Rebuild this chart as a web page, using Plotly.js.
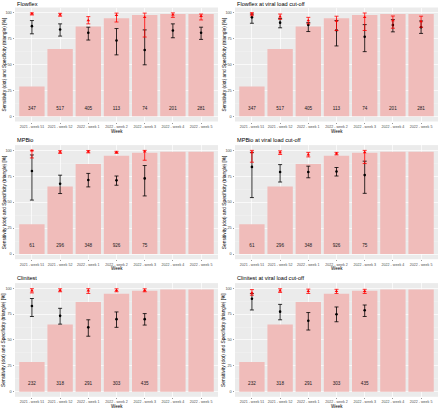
<!DOCTYPE html>
<html>
<head>
<meta charset="utf-8">
<script src="https://cdn.plot.ly/plotly-3.0.1.min.js"></script>
<style>html,body{margin:0;padding:0;background:#fff;}#chart{width:440px;height:409px;}</style>
</head>
<body>
<div id="chart"></div>
<script>
// ---------------- data ----------------
const weeks = ['2021 - week 51','2021 - week 52','2022 - week 1','2022 - week 2','2022 - week 3','2022 - week 4','2022 - week 5'];
const barShare = [28.7, 65, 86.7, 94.7, 97.7, 98.7, 98.7];

const flowflexN       = [347, 517, 405, 113, 74, 201, 281];
const flowflexSens    = [87.0, 83.8, 80.6, 73.2, 64.0, 82.8, 80.6];
const flowflexSensLo  = [79.6, 77.4, 73.6, 59.3, 49.7, 75.8, 74.2];
const flowflexSensHi  = [92.4, 89.2, 86.0, 84.7, 83.4, 89.2, 86.0];
const flowflexSpec    = [99.0, 98.0, 92.6, 97.5, 95.6, 98.0, 96.6];
const flowflexSpecLo  = [97.8, 96.6, 89.2, 91.0, 76.5, 95.5, 93.0];
const flowflexSpecHi  = [99.8, 99.4, 96.2, 99.6, 99.6, 99.8, 98.7];

const flowflexVlSens   = [95.5, 90.4, 88.2, 83.0, 76.8, 88.0, 86.0];
const flowflexVlSensLo = [89.8, 85.4, 81.8, 67.9, 62.4, 81.5, 80.0];
const flowflexVlSensHi = [98.7, 94.3, 90.4, 92.4, 88.5, 93.3, 92.0];
const flowflexVlSpec   = [98.7, 96.2, 92.4, 92.0, 95.6, 92.4, 91.5];
const flowflexVlSpecLo = [97.0, 93.6, 89.2, 82.8, 82.8, 85.0, 86.0];
const flowflexVlSpecHi = [100.0, 98.7, 95.5, 96.6, 99.7, 96.8, 96.6];

const mpbioN       = [61, 296, 348, 926, 75, null, null];
const mpbioSens    = [80.0, 67.8, 71.3, 71.0, 72.9, null, null];
const mpbioSensLo  = [52.0, 58.3, 64.7, 66.3, 56.0, null, null];
const mpbioSensHi  = [95.5, 76.0, 77.7, 75.2, 85.3, null, null];
const mpbioSpec    = [99.6, 98.4, 98.7, 98.1, 98.7, null, null];
const mpbioSpecLo  = [92.6, 97.0, 97.5, 97.0, 90.4, null, null];
const mpbioSpecHi  = [100.0, 99.6, 99.8, 99.0, 99.9, null, null];

const mpbioVlSens   = [84.0, 79.0, 79.0, 79.6, 76.1, null, null];
const mpbioVlSensLo = [54.4, 69.4, 73.5, 75.2, 58.5, null, null];
const mpbioVlSensHi = [98.0, 86.2, 84.7, 83.4, 89.5, null, null];
const mpbioVlSpec   = [98.0, 98.0, 95.8, 96.8, 98.0, null, null];
const mpbioVlSpecLo = [88.5, 96.0, 93.6, 95.5, 87.2, null, null];
const mpbioVlSpecHi = [99.9, 99.5, 98.0, 98.0, 99.9, null, null];

const clinitestN       = [232, 318, 291, 303, 435, null, null];
const clinitestSens    = [82.9, 73.3, 62.2, 70.1, 70.1, null, null];
const clinitestSensLo  = [72.7, 65.3, 53.6, 62.2, 64.4, null, null];
const clinitestSensHi  = [90.1, 80.6, 69.5, 77.1, 75.5, null, null];
const clinitestSpec    = [97.7, 98.0, 97.7, 98.0, 98.0, null, null];
const clinitestSpecLo  = [95.5, 96.6, 95.0, 96.6, 96.6, null, null];
const clinitestSpecHi  = [99.6, 99.5, 99.6, 99.5, 99.5, null, null];

const clinitestVlSens   = [89.8, 77.4, 68.6, 74.9, 78.7, null, null];
const clinitestVlSensLo = [79.0, 69.5, 59.6, 67.6, 72.7, null, null];
const clinitestVlSensHi = [95.0, 84.4, 76.5, 81.9, 83.8, null, null];
const clinitestVlSpec   = [95.5, 97.7, 97.1, 97.1, 97.1, null, null];
const clinitestVlSpecLo = [93.3, 96.0, 95.0, 95.0, 95.0, null, null];
const clinitestVlSpecHi = [98.7, 99.5, 99.2, 99.0, 99.0, null, null];

const panelTitles = ['Flowflex','Flowflex at viral load cut-off','MPBio','MPBio at viral load cut-off','Clinitest','Clinitest at viral load cut-off'];
const xTitle = 'Week';
const yTitle = 'Sensitivity (dot) and Specificity (triangle) [%]';

// ---------------- build ----------------
const panels = [
  {n: flowflexN,  s: flowflexSens,  sl: flowflexSensLo,  sh: flowflexSensHi,  p: flowflexSpec,  pl: flowflexSpecLo,  ph: flowflexSpecHi},
  {n: flowflexN,  s: flowflexVlSens, sl: flowflexVlSensLo, sh: flowflexVlSensHi, p: flowflexVlSpec, pl: flowflexVlSpecLo, ph: flowflexVlSpecHi},
  {n: mpbioN,     s: mpbioSens,     sl: mpbioSensLo,     sh: mpbioSensHi,     p: mpbioSpec,     pl: mpbioSpecLo,     ph: mpbioSpecHi},
  {n: mpbioN,     s: mpbioVlSens,   sl: mpbioVlSensLo,   sh: mpbioVlSensHi,   p: mpbioVlSpec,   pl: mpbioVlSpecLo,   ph: mpbioVlSpecHi},
  {n: clinitestN, s: clinitestSens, sl: clinitestSensLo, sh: clinitestSensHi, p: clinitestSpec, pl: clinitestSpecLo, ph: clinitestSpecHi},
  {n: clinitestN, s: clinitestVlSens, sl: clinitestVlSensLo, sh: clinitestVlSensHi, p: clinitestVlSpec, pl: clinitestVlSpecLo, ph: clinitestVlSpecHi}
];

const W = 440, H = 409;
const colX = [[15, 218], [235, 438]];           // plot-area px (left,right)
const rowY = [[7.5, 121.5], [145.1, 259.2], [283.1, 396.8]]; // plot-area px (top,bottom)
const titleY = [4, 140.5, 277.5];
const yTitleX = [4, 224];

const FONT = 'Liberation Sans, Arial, sans-serif';
const pink = 'rgb(240,188,186)';

const traces = [];
const layout = {
  width: W, height: H,
  margin: {l: 0, r: 0, t: 0, b: 0},
  paper_bgcolor: '#ffffff',
  plot_bgcolor: '#EBEBEB',
  showlegend: false,
  font: {family: FONT, size: 4, color: '#4D4D4D'},
  annotations: []
};

function diff(a, b) { return a.map((v, i) => (v == null || b[i] == null) ? null : v - b[i]); }

panels.forEach((pn, k) => {
  const col = k % 2, row = Math.floor(k / 2);
  const ax = k === 0 ? '' : String(k + 1);
  const xa = 'x' + ax, ya = 'y' + ax;
  const [x0, x1] = colX[col];
  const [y0, y1] = rowY[row];

  layout['xaxis' + ax] = {
    domain: [x0 / W, x1 / W],
    anchor: ya,
    type: 'category',
    categoryorder: 'array', categoryarray: weeks,
    range: [-0.6, 6.6],
    showgrid: true, gridcolor: '#ffffff', gridwidth: 0.7,
    zeroline: false, showline: false,
    ticks: 'outside', ticklen: 1.2, tickwidth: 0.5, tickcolor: '#333333',
    tickfont: {family: FONT, size: 3.6, color: '#4D4D4D'},
    tickangle: 0,
    fixedrange: true
  };
  layout['yaxis' + ax] = {
    domain: [1 - y1 / H, 1 - y0 / H],
    anchor: xa,
    range: [-5, 105],
    tickvals: [0, 25, 50, 75, 100],
    showgrid: true, gridcolor: '#ffffff', gridwidth: 0.7,
    minor: {tickvals: [12.5, 37.5, 62.5, 87.5], showgrid: true, gridcolor: '#F5F5F5', gridwidth: 0.4, ticks: ''},
    zeroline: false, showline: false,
    ticks: 'outside', ticklen: 1.5, tickwidth: 0.5, tickcolor: '#333333',
    tickfont: {family: FONT, size: 3.8, color: '#4D4D4D'},
    fixedrange: true
  };

  // bars
  traces.push({
    type: 'bar', x: weeks, y: barShare, xaxis: xa, yaxis: ya,
    width: 0.9, marker: {color: pink, line: {width: 0}}, hoverinfo: 'skip'
  });
  // n labels
  traces.push({
    type: 'scatter', mode: 'text', xaxis: xa, yaxis: ya,
    x: weeks, y: weeks.map(() => 7.5),
    text: pn.n.map(v => v == null ? '' : String(v)),
    textposition: 'middle center',
    textfont: {family: FONT, size: 4.6, color: '#1a1a1a'},
    hoverinfo: 'skip'
  });
  // sensitivity (black dots)
  traces.push({
    type: 'scatter', mode: 'markers', xaxis: xa, yaxis: ya,
    x: weeks, y: pn.s,
    marker: {symbol: 'circle', size: 2.6, color: '#000000'},
    error_y: {type: 'data', symmetric: false, array: diff(pn.sh, pn.s), arrayminus: diff(pn.s, pn.sl),
              color: '#000000', thickness: 0.8, width: 2}
  });
  // specificity (red triangles)
  traces.push({
    type: 'scatter', mode: 'markers', xaxis: xa, yaxis: ya,
    x: weeks, y: pn.p,
    marker: {symbol: 'triangle-up', size: 3.2, color: '#FF0000'},
    error_y: {type: 'data', symmetric: false, array: diff(pn.ph, pn.p), arrayminus: diff(pn.p, pn.pl),
              color: '#FF0000', thickness: 0.8, width: 2}
  });

  // panel title
  layout.annotations.push({
    text: panelTitles[k], xref: 'paper', yref: 'paper',
    x: x0 / W, y: 1 - titleY[row] / H, xanchor: 'left', yanchor: 'middle',
    showarrow: false, font: {family: FONT, size: 5.6, color: '#000000'}
  });
  // x title
  layout.annotations.push({
    text: xTitle, xref: 'paper', yref: 'paper',
    x: (x0 + x1) / 2 / W, y: 1 - (y1 + 9.6) / H, xanchor: 'center', yanchor: 'middle',
    showarrow: false, font: {family: FONT, size: 4.5, color: '#000000'}
  });
  // y title
  layout.annotations.push({
    text: yTitle, xref: 'paper', yref: 'paper', textangle: -90,
    x: yTitleX[col] / W, y: 1 - (y0 + y1) / 2 / H, xanchor: 'center', yanchor: 'middle',
    showarrow: false, font: {family: FONT, size: 4.8, color: '#000000'}
  });
});

Plotly.newPlot('chart', traces, layout, {staticPlot: true, displayModeBar: false});
</script>
</body>
</html>
